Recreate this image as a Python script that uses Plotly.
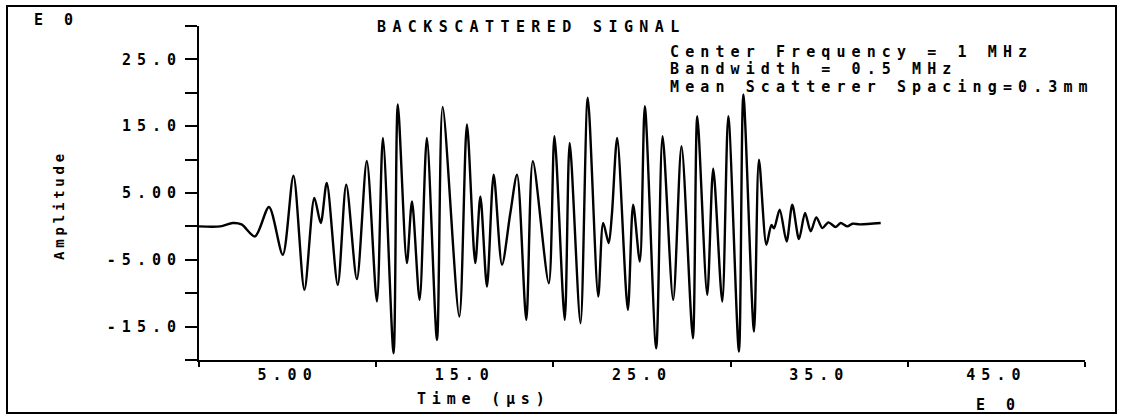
import plotly.graph_objects as go

# Backscattered RF trace, sampled at its turning points (time in µs, amplitude)
time_us = [
    0.0, 1.2, 1.9, 2.4, 3.16, 3.95, 4.73, 5.33, 5.95, 6.51, 6.87, 7.21, 7.83, 8.31,
    8.91, 9.47, 10.04, 10.38, 10.98, 11.22, 11.73, 12.02, 12.45, 12.86, 13.43, 13.75,
    14.69, 15.12, 15.59, 15.88, 16.25, 16.63, 17.10, 17.57, 17.95, 18.47, 18.84, 19.74,
    20.06, 20.64, 20.92, 21.53, 21.94, 22.53, 22.81, 23.12, 23.30, 23.60, 24.20, 24.50,
    24.88, 25.16, 25.80, 26.16, 26.76, 27.23, 27.87, 28.12, 28.68, 29.02, 29.53, 29.87,
    30.47, 30.72, 31.32, 31.60, 32.02, 32.30, 32.45, 32.77, 33.16, 33.48, 33.86, 34.20,
    34.52, 34.84, 35.18, 35.52, 35.93, 36.21, 36.59, 36.88, 37.30, 38.47,
]
amplitude = [
    0.0, 0.0, 0.5, 0.3, -1.5, 2.9, -4.25, 7.6, -9.5, 4.25, 0.5, 6.5, -8.75, 6.25,
    -7.9, 9.8, -11.25, 13.25, -19.0, 18.25, -5.5, 3.75, -11.0, 13.25, -17.0, 17.9,
    -13.5, 15.25, -5.5, 4.5, -9.0, 7.75, -5.75, 2.0, 7.75, -14.0, 9.75, -8.5,
    13.5, -14.0, 12.5, -14.5, 19.25, -10.5, 0.5, -2.5, 1.75, 13.25, -12.5, 3.25,
    -5.25, 18.0, -18.25, 13.5, -11.0, 12.0, -16.75, 16.5, -10.25, 8.65, -11.25, 16.5,
    -18.75, 19.75, -15.75, 10.0, -2.75, 0.2, -0.3, 2.5, -2.25, 3.25, -1.9, 2.0,
    -0.75, 1.35, -0.25, 0.6, -0.1, 0.5, 0.0, 0.4, 0.3, 0.5,
]

y_tick_vals = [-20, -15, -10, -5, 0, 5, 10, 15, 20, 25, 30]
y_tick_text = ["", "-15.0", "", "-5.00", "", "5.00", "", "15.0", "", "25.0", ""]
x_tick_vals = [5, 15, 25, 35, 45]
x_tick_text = ["5.00", "15.0", "25.0", "35.0", "45.0"]
x_mark_vals = [0, 10, 20, 30, 40, 50]

title_text = "BACKSCATTERED SIGNAL"
info_lines = ["Center Frequency = 1 MHz", "Bandwidth = 0.5 MHz", "Mean Scatterer Spacing=0.3mm"]
x_title = "Time (μs)"
y_title = "Amplitude"
scale_tag = "E 0"

# page and plot-area geometry in pixels
W, H = 1124, 419
L, R, T, B = 199, 1085, 26, 360

FONT = dict(family="DejaVu Sans Mono", size=15, color="black", weight="bold")


def spaced(s, ls=6.0):
    return f'<span style="letter-spacing:{ls}px">{s}</span>'


def px(x):
    return (x - L) / (R - L)


def py(y):
    return (B - y) / (B - T)


fig = go.Figure()
fig.add_trace(go.Scatter(
    x=time_us, y=amplitude, mode="lines",
    line=dict(color="black", width=2.4, shape="spline", smoothing=0.8),
    hoverinfo="skip", showlegend=False,
))

annotations = [
    dict(x=px(375), y=py(27), text=spaced(title_text, 6.4), xanchor="left", yanchor="middle",
         font=FONT),
    dict(x=px(32), y=py(20), text=spaced(scale_tag), xanchor="left", yanchor="middle", font=FONT),
    dict(x=px(974), y=py(405), text=spaced(scale_tag), xanchor="left", yanchor="middle", font=FONT),
    dict(x=px(415), y=py(399), text=spaced(x_title, 5.8), xanchor="left", yanchor="middle", font=FONT),
    dict(x=px(59), y=py(205), text=spaced(y_title, 3.8), textangle=-90, xanchor="center",
         yanchor="middle", font=dict(FONT, size=14)),
]
for row_y, line in zip([52, 68.5, 87], info_lines):
    annotations.append(dict(x=px(668), y=py(row_y), text=spaced(line, 6.1), xanchor="left",
                            yanchor="middle", font=FONT))
for a in annotations:
    a.update(xref="paper", yref="paper", showarrow=False)

fig.update_layout(
    width=W, height=H,
    margin=dict(l=L, r=W - R, t=T, b=H - B, pad=0, autoexpand=False),
    paper_bgcolor="white", plot_bgcolor="white",
    font=FONT,
    annotations=annotations,
    shapes=[dict(type="rect", xref="paper", yref="paper",
                 x0=px(7), x1=px(1116), y0=py(413), y1=py(6),
                 line=dict(color="black", width=2), fillcolor="rgba(0,0,0,0)")],
    xaxis=dict(
        range=[0, 50], showgrid=False, zeroline=False, automargin=False,
        showline=True, linecolor="black", linewidth=2,
        tickmode="array", tickvals=x_tick_vals, ticktext=[spaced(t) for t in x_tick_text],
        ticks="", tickfont=FONT,
        minor=dict(tickmode="array", tickvals=x_mark_vals, ticks="outside", ticklen=5,
                   tickwidth=2, tickcolor="black", showgrid=False),
    ),
    yaxis=dict(
        range=[-20, 30], showgrid=False, zeroline=False, automargin=False,
        showline=True, linecolor="black", linewidth=2,
        tickmode="array", tickvals=y_tick_vals, ticktext=[spaced(t) for t in y_tick_text],
        ticks="outside", ticklen=12, tickwidth=2, tickcolor="black", tickfont=FONT,
    ),
)

fig.write_html("out.html")
